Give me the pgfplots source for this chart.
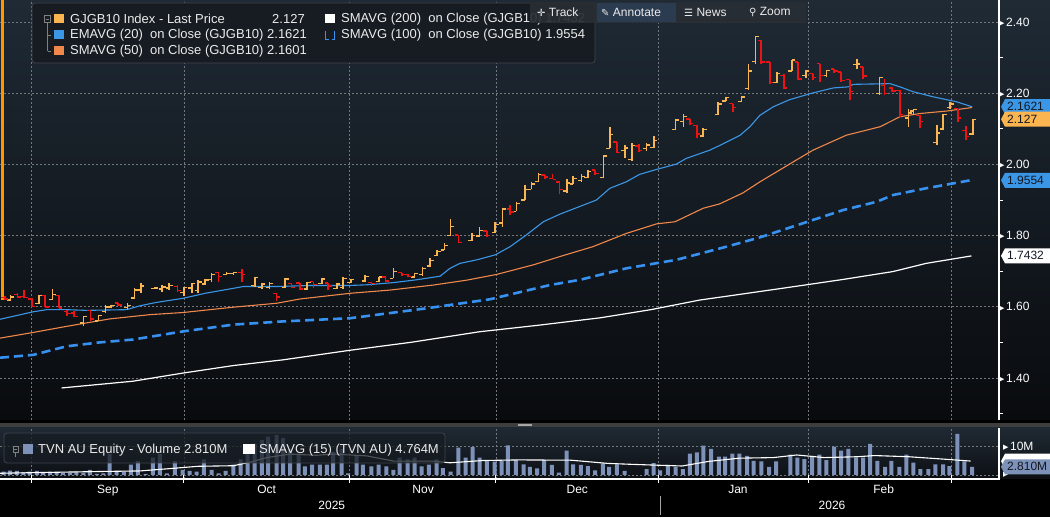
\documentclass[border=0pt]{standalone}
\usepackage{pgfplots}
\pgfplotsset{compat=1.18}
\usepackage{pgfplotstable}
\usepackage{fontspec}
\setmainfont{Liberation Sans}
\newfontfamily\sym{DejaVu Sans}

\definecolor{upc}{RGB}{250,180,80}
\definecolor{spk}{RGB}{255,150,0}
\definecolor{dnc}{RGB}{235,20,20}
\definecolor{ema}{RGB}{60,150,230}
\definecolor{smaf}{RGB}{240,135,75}
\definecolor{smah}{RGB}{55,145,240}
\definecolor{volc}{RGB}{125,145,185}
\definecolor{gridc}{RGB}{115,120,125}
\definecolor{bgtop}{RGB}{31,42,53}
\definecolor{bgbot}{RGB}{9,11,14}
\definecolor{vbgtop}{RGB}{32,42,52}
\definecolor{vbgbot}{RGB}{12,15,19}
\definecolor{sepc}{RGB}{62,62,62}
\definecolor{legbg}{RGB}{22,28,34}
\definecolor{legbd}{RGB}{62,68,74}
\definecolor{txt}{RGB}{235,235,235}
\definecolor{tagtxt}{RGB}{18,24,34}
\definecolor{toolbg}{RGB}{40,46,52}
\definecolor{toolhi}{RGB}{44,60,80}

\newcommand\fs{\fontsize{13}{15}\selectfont}
\newcommand\ft{\fontsize{12}{14}\selectfont}
\newcommand\tri{{\sym\fontsize{7}{7}\selectfont\raisebox{0.8pt}{▶}}\hspace{1.5pt}}

% open / close ticks of an OHLC bar
\pgfdeclareplotmark{otick}{\pgfpathmoveto{\pgfqpoint{-\pgfplotmarksize}{0pt}}\pgfpathlineto{\pgfqpoint{0pt}{0pt}}\pgfusepathqstroke}
\pgfdeclareplotmark{ctick}{\pgfpathmoveto{\pgfqpoint{\pgfplotmarksize}{0pt}}\pgfpathlineto{\pgfqpoint{0pt}{0pt}}\pgfusepathqstroke}

% first bar, running off the top
\pgfplotstableread{
x o h l c
0.35 1.622 2.500 1.620 1.625
}\spike

% GJGB10 daily bars, close >= open
\pgfplotstableread{
x o h l c
1.5 1.619 1.633 1.615 1.628
5.5 1.610 1.633 1.608 1.632
7.4 1.621 1.649 1.619 1.634
11.8 1.555 1.575 1.545 1.573
13.9 1.560 1.578 1.559 1.576
14.9 1.586 1.606 1.582 1.600
15.7 1.599 1.606 1.596 1.604
18.0 1.598 1.610 1.593 1.604
19.0 1.625 1.653 1.622 1.647
19.9 1.647 1.668 1.640 1.658
21.9 1.651 1.655 1.650 1.653
22.9 1.650 1.660 1.643 1.656
23.9 1.653 1.666 1.646 1.660
26.0 1.640 1.656 1.629 1.654
27.1 1.653 1.667 1.638 1.665
28.0 1.645 1.676 1.640 1.670
29.0 1.664 1.677 1.662 1.675
29.9 1.676 1.695 1.671 1.690
32.0 1.690 1.697 1.690 1.694
33.0 1.693 1.699 1.690 1.697
36.0 1.660 1.685 1.657 1.683
37.0 1.655 1.667 1.650 1.664
38.1 1.655 1.669 1.650 1.665
40.3 1.655 1.681 1.653 1.678
43.4 1.650 1.671 1.648 1.668
45.5 1.665 1.681 1.664 1.678
47.6 1.652 1.667 1.650 1.664
48.5 1.655 1.683 1.650 1.680
49.6 1.668 1.677 1.666 1.676
51.6 1.672 1.690 1.671 1.685
53.6 1.671 1.685 1.671 1.684
55.6 1.680 1.708 1.680 1.699
58.6 1.684 1.696 1.683 1.694
59.7 1.690 1.713 1.687 1.708
60.8 1.715 1.736 1.713 1.730
61.8 1.745 1.760 1.743 1.755
62.8 1.760 1.778 1.760 1.772
63.7 1.800 1.846 1.799 1.825
66.7 1.786 1.808 1.786 1.800
67.8 1.799 1.823 1.797 1.815
70.0 1.808 1.839 1.806 1.832
71.0 1.835 1.879 1.825 1.875
73.0 1.868 1.895 1.868 1.890
74.2 1.900 1.942 1.900 1.930
75.1 1.930 1.951 1.930 1.945
76.1 1.952 1.975 1.951 1.972
80.1 1.925 1.958 1.920 1.948
81.0 1.945 1.967 1.944 1.960
82.2 1.955 1.973 1.951 1.966
83.1 1.963 1.984 1.961 1.980
85.3 1.963 2.026 1.961 2.024
86.2 2.045 2.106 2.045 2.084
88.3 2.040 2.054 2.017 2.046
89.3 2.014 2.059 2.010 2.054
91.4 2.045 2.061 2.038 2.055
92.4 2.048 2.079 2.047 2.068
95.5 2.098 2.129 2.098 2.125
96.6 2.120 2.141 2.104 2.135
99.4 2.080 2.101 2.077 2.098
101.5 2.140 2.176 2.138 2.170
102.6 2.178 2.190 2.178 2.188
104.8 2.176 2.192 2.175 2.190
105.8 2.213 2.283 2.210 2.263
106.8 2.290 2.360 2.283 2.360
109.8 2.230 2.260 2.230 2.255
111.9 2.262 2.294 2.262 2.293
113.9 2.250 2.264 2.244 2.262
116.8 2.250 2.266 2.246 2.264
121.1 2.280 2.297 2.269 2.282
124.3 2.200 2.246 2.194 2.244
128.4 2.130 2.157 2.106 2.145
129.1 2.150 2.157 2.140 2.155
132.4 2.062 2.110 2.054 2.088
133.3 2.100 2.143 2.097 2.140
134.3 2.160 2.176 2.157 2.170
137.5 2.085 2.129 2.084 2.127
}\upbars

% close < open
\pgfplotstableread{
x o h l c
0.7 1.626 1.629 1.620 1.622
2.5 1.634 1.638 1.624 1.628
3.4 1.629 1.647 1.624 1.627
4.5 1.622 1.624 1.599 1.601
6.4 1.631 1.633 1.599 1.599
8.3 1.631 1.633 1.596 1.597
9.5 1.587 1.591 1.575 1.582
10.5 1.583 1.587 1.571 1.573
12.8 1.590 1.592 1.559 1.566
16.7 1.611 1.612 1.601 1.605
25.1 1.657 1.660 1.642 1.646
30.9 1.697 1.699 1.671 1.685
34.2 1.697 1.706 1.671 1.690
39.1 1.638 1.638 1.615 1.628
41.2 1.666 1.667 1.653 1.655
42.4 1.667 1.667 1.648 1.650
44.3 1.671 1.671 1.653 1.662
46.4 1.667 1.667 1.648 1.658
52.5 1.668 1.671 1.659 1.665
54.5 1.684 1.685 1.671 1.673
56.8 1.696 1.696 1.687 1.690
57.7 1.690 1.692 1.683 1.686
64.8 1.802 1.802 1.778 1.780
68.8 1.813 1.813 1.797 1.800
72.1 1.875 1.886 1.858 1.866
77.0 1.970 1.970 1.960 1.965
78.1 1.960 1.972 1.958 1.958
79.1 1.951 1.951 1.918 1.930
84.1 1.984 1.984 1.970 1.974
87.2 2.063 2.063 2.033 2.034
90.3 2.052 2.057 2.035 2.040
97.5 2.128 2.129 2.112 2.115
98.5 2.110 2.110 2.073 2.085
103.6 2.171 2.171 2.148 2.160
107.6 2.349 2.349 2.283 2.288
108.8 2.288 2.288 2.227 2.230
110.8 2.250 2.253 2.213 2.215
112.8 2.288 2.288 2.236 2.240
114.9 2.255 2.255 2.236 2.245
115.9 2.283 2.283 2.232 2.250
117.9 2.268 2.269 2.257 2.262
118.9 2.260 2.260 2.232 2.236
120.1 2.238 2.238 2.180 2.205
122.0 2.274 2.274 2.241 2.248
125.0 2.222 2.240 2.194 2.200
126.1 2.215 2.218 2.204 2.206
127.2 2.208 2.208 2.134 2.140
130.0 2.138 2.138 2.101 2.120
135.4 2.157 2.157 2.120 2.130
136.5 2.095 2.107 2.068 2.078
}\dnbars

% TVN AU volume, millions
\pgfplotstableread{
x v
0.5 1.2
1.4 1.5
2.4 1.4
3.3 1.0
4.2 1.2
5.2 1.4
6.1 0.8
7.1 1.2
8.0 1.0
8.9 0.7
9.9 0.7
10.8 1.2
11.8 0.7
12.7 1.8
13.7 0.4
14.6 0.6
15.5 7.2
16.5 1.2
17.5 1.2
18.5 3.6
19.5 4.8
20.6 0.4
21.6 6.0
22.6 7.2
23.6 0.6
24.7 4.8
25.8 1.8
26.8 1.4
27.8 1.2
28.8 5.4
29.9 1.8
30.9 0.6
31.9 1.4
33.0 3.6
34.0 5.4
35.0 10.2
36.0 10.8
37.0 12.0
37.9 13.2
39.1 13.8
40.0 12.7
41.0 9.0
42.2 7.2
43.1 3.0
44.1 3.6
45.2 3.6
46.2 3.6
47.1 8.0
48.3 9.0
49.2 0.6
50.4 6.6
51.3 3.6
52.5 3.0
53.5 3.6
54.6 3.0
55.6 1.8
56.5 6.0
57.6 5.4
58.6 6.0
59.6 3.0
60.6 3.6
61.7 5.4
62.6 2.4
63.7 1.2
64.8 9.4
65.8 6.0
66.8 9.6
67.8 6.0
68.8 4.8
69.9 4.6
70.9 4.8
71.8 10.2
72.9 5.0
74.0 3.7
74.9 2.8
75.9 2.3
76.9 5.1
78.0 3.5
79.0 0.8
80.1 8.4
81.0 3.7
82.1 3.5
83.1 3.1
84.1 1.6
85.2 4.0
86.1 2.8
87.2 3.7
88.3 1.4
91.4 2.0
92.4 4.1
93.3 1.6
94.4 3.5
95.5 2.8
96.5 2.0
97.5 7.4
98.5 7.8
99.4 10.1
100.5 9.0
101.6 6.3
102.5 6.3
103.5 7.4
104.5 7.4
105.6 6.6
106.5 4.9
107.6 4.7
108.7 2.8
109.7 4.7
111.7 7.0
112.7 6.0
113.7 5.5
114.8 6.6
115.8 7.0
116.8 5.1
117.9 9.8
118.9 8.4
119.9 9.0
121.0 6.0
122.0 6.0
123.0 10.7
124.0 4.9
125.1 2.8
126.0 4.9
127.1 2.8
128.1 7.0
129.1 4.3
130.1 2.0
131.2 2.0
132.2 3.7
133.3 3.7
134.2 3.1
135.3 14.2
136.3 4.7
137.4 2.8
}\vol

\newcommand\vtag[4]{%
  \fill[#2] (#1) ++(2pt,0pt) -- ++(4pt,7.5pt) -- ++(46pt,0pt) -- ++(0pt,-15pt) -- ++(-46pt,0pt) -- cycle;
  \node[anchor=west, xshift=8pt, inner sep=0pt, text=#3, font=\ft] at (#1) {#4};}

\begin{document}
\begin{tikzpicture}
\begin{scope}[x=1pt,y=1pt]
\fill[black] (0,0) rectangle (1050,517);
\shade[top color=bgtop, bottom color=bgbot] (0,97) rectangle (1050,517);
\shade[top color=vbgtop, bottom color=vbgbot] (0,38) rectangle (1050,90);
\fill[sepc] (0,90) rectangle (1050,94);
\draw[gray!70, line width=0.8pt] (518,92.9) -- (532,92.9) (518,91.2) -- (532,91.2);
\end{scope}

% ---- price panel
\begin{axis}[
  at={(0pt,97pt)}, anchor=south west, scale only axis,
  width=999pt, height=420pt,
  xmin=0, xmax=141.2, ymin=1.282, ymax=2.462,
  axis line style={draw=none},
  xtick={4.5,26.0,49.45,70.1,93.1,114.3,134.5}, xticklabels={},
  xtick style={draw=none},
  ytick={1.4,1.6,1.8,2.0,2.2,2.4},
  yticklabels={{\tri1.40},{\tri1.60},{\tri1.80},{\tri2.00},{\tri2.20},{\tri2.40}},
  minor ytick={1.3,1.5,1.7,1.9,2.1,2.3},
  ytick pos=right, yticklabel pos=right,
  major tick length=0pt, minor tick length=4pt, tick align=outside,
  ytick style={white, line width=1pt},
  yticklabel style={anchor=west, inner sep=0pt, text=white, font=\ft},
  xmajorgrids, ymajorgrids,
  major grid style={gridc, dash pattern=on 2pt off 2pt, line width=0.8pt},
  extra description/.code={\draw[white, line width=1.2pt] (rel axis cs:1,0) -- (rel axis cs:1,1);},
]
% SMAVG 200
\addplot[white, line width=1.2pt] coordinates {
(8.7,1.372) (18.8,1.391) (25.9,1.414) (33,1.435) (40,1.451) (49.5,1.478) (58,1.500)
(67.8,1.530) (76,1.548) (84.8,1.569) (92,1.592) (98.9,1.619) (106,1.639) (113,1.659)
(119.2,1.677) (126.2,1.699) (130.9,1.722) (137.3,1.743)};
% SMAVG 100
\addplot[smah, line width=2.6pt, dash pattern=on 9pt off 5pt] coordinates {
(0,1.457) (4.7,1.465) (9.4,1.489) (14.1,1.500) (18.8,1.508) (25.9,1.531) (33,1.550)
(40,1.559) (49.5,1.568) (60,1.595) (69.2,1.621) (77.7,1.661) (82,1.676) (88.5,1.708)
(95.6,1.732) (102.7,1.769) (107.4,1.795) (114.9,1.844) (119.2,1.872) (123.9,1.895)
(126.2,1.914) (130.9,1.933) (137.3,1.956)};
% SMAVG 50
\addplot[smaf, line width=1.1pt] coordinates {
(0,1.512) (4.7,1.528) (9.4,1.545) (15.5,1.566) (21.2,1.578) (25.9,1.584) (33,1.599)
(39.1,1.610) (42.4,1.622) (49.5,1.638) (55.1,1.647) (61.2,1.661) (66,1.675) (70.2,1.691)
(75.4,1.718) (79.1,1.741) (83.8,1.769) (88.5,1.806) (92.8,1.833) (95.4,1.839) (99.4,1.877)
(101.7,1.889) (105,1.920) (107.4,1.951) (112.1,2.007) (114.9,2.040) (119.6,2.082)
(124.4,2.106) (127.2,2.134) (130,2.143) (133.8,2.150) (137.4,2.160)};
% EMAVG 20
\addplot[ema, line width=1.1pt] coordinates {
(0,1.565) (4.7,1.586) (6.6,1.592) (9.4,1.592) (12.2,1.590) (17.9,1.592) (19.8,1.603)
(22,1.612) (25.9,1.624) (29,1.638) (33,1.652) (34.4,1.657) (39.1,1.657) (44,1.660)
(49.5,1.660) (52,1.662) (55.6,1.668) (58.9,1.676) (62.2,1.686) (63.6,1.708) (65,1.722)
(67.4,1.732) (70,1.746) (72.1,1.769) (74.4,1.802) (76.8,1.839) (79.1,1.860) (84.3,1.900)
(86.2,1.933) (88.5,1.951) (90.4,1.972) (92.8,1.986) (95.6,2.001) (97,2.017)
(100.3,2.040) (101.8,2.054) (104.6,2.082) (106,2.106) (107.4,2.138) (109.3,2.162)
(111.6,2.182) (114.9,2.201) (117.8,2.215) (119.9,2.218) (120.6,2.225) (125.8,2.227)
(127.2,2.218) (129.1,2.204) (131.9,2.190) (135.2,2.176) (137.4,2.162)};
% OHLC bars
\addplot[draw=none, forget plot, error bars/.cd, y dir=minus, y explicit, error mark=none,
  error bar style={draw=spk, line width=2.6pt}]
  table[x=x, y=h, y error minus expr=\thisrow{h}-\thisrow{l}] {\spike};
\addplot[draw=none, forget plot, error bars/.cd, y dir=minus, y explicit, error mark=none,
  error bar style={draw=upc, line width=1.6pt}]
  table[x=x, y=h, y error minus expr=\thisrow{h}-\thisrow{l}] {\upbars};
\addplot[only marks, mark=otick, mark size=3.5pt, upc, mark options={line width=1.4pt}] table[x=x, y=o] {\upbars};
\addplot[only marks, mark=ctick, mark size=3.5pt, upc, mark options={line width=1.4pt}] table[x=x, y=c] {\upbars};
\addplot[draw=none, forget plot, error bars/.cd, y dir=minus, y explicit, error mark=none,
  error bar style={draw=dnc, line width=1.6pt}]
  table[x=x, y=h, y error minus expr=\thisrow{h}-\thisrow{l}] {\dnbars};
\addplot[only marks, mark=otick, mark size=3.5pt, dnc, mark options={line width=1.4pt}] table[x=x, y=o] {\dnbars};
\addplot[only marks, mark=ctick, mark size=3.5pt, dnc, mark options={line width=1.4pt}] table[x=x, y=c] {\dnbars};
\coordinate (tg1) at (axis cs:141.2,2.1621);
\coordinate (tg2) at (axis cs:141.2,2.127);
\coordinate (tg3) at (axis cs:141.2,1.9554);
\coordinate (tg4) at (axis cs:141.2,1.7432);
\end{axis}

% ---- volume panel
\begin{axis}[
  at={(0pt,38pt)}, anchor=south west, scale only axis,
  width=999pt, height=51pt,
  xmin=0, xmax=141.2, ymin=-1.38, ymax=16.2, clip=false,
  axis line style={draw=none},
  xtick={4.5,26.0,49.45,70.1,93.1,114.3,134.5}, xticklabels={},
  extra x ticks={15.25,37.7,59.8,81.6,104.3,124.9},
  extra x tick labels={Sep,Oct,Nov,Dec,Jan,Feb},
  extra x tick style={major tick length=0pt, grid=none},
  xtick pos=bottom, xticklabel pos=bottom,
  ytick={0,10}, yticklabels={{\tri},{\tri10M}},
  ytick pos=right, yticklabel pos=right,
  tick align=center, major tick length=8pt,
  xtick style={white, line width=1pt}, ytick style={draw=none},
  xticklabel style={text=white, font=\ft, yshift=-2.5pt},
  yticklabel style={anchor=west, inner sep=0pt, text=white, font=\ft},
  xmajorgrids, ymajorgrids,
  major grid style={gridc, dash pattern=on 2pt off 2pt, line width=0.8pt},
  extra description/.code={\draw[white, line width=1.2pt] (rel axis cs:0,0) -- (rel axis cs:1,0) -- (rel axis cs:1,1);},
]
\addplot[ybar, bar width=4pt, bar shift=0pt, fill=volc, draw=none] table[x=x, y=v] {\vol};
\addplot[white, line width=1.1pt] coordinates {
(0,0.6) (14,1.2) (19.8,1.4) (24,2.2) (28,3.0) (33,3.2) (35.5,4.5) (37.7,6.0) (41,7.2)
(44.7,6.8) (47.1,7.2) (51.8,6.6) (55.6,4.8) (61.2,4.8) (63.6,4.2) (68.3,5.0) (73.5,5.2)
(80.7,5.1) (85.9,4.0) (89,3.7) (92.6,3.4) (96.4,3.1) (100.2,4.7) (104.5,5.8) (109.3,6.0)
(112.6,6.9) (116.5,6.0) (121.2,6.3) (123.6,6.7) (128.4,6.3) (133.2,5.5) (137.2,4.8)};
\node[text=white, font=\ft] at (axis cs:46.9,-1.38) [yshift=-26pt] {2025};
\node[text=white, font=\ft] at (axis cs:117.6,-1.38) [yshift=-26pt] {2026};
\draw[gray!70, line width=0.8pt] (axis cs:93.4,-1.38) ++(0pt,-17pt) -- ++(0pt,-19pt);
\coordinate (tv1) at (axis cs:141.2,4.764);
\coordinate (tv2) at (axis cs:141.2,2.81);
\end{axis}

% ---- value tags
\vtag{tg1}{ema}{tagtxt}{2.1621}
\vtag{tg2}{upc}{tagtxt}{2.127}
\vtag{tg3}{ema}{tagtxt}{1.9554}
\vtag{tg4}{white}{tagtxt}{1.7432}
\vtag{tv1}{white}{tagtxt}{}
\vtag{tv2}{volc}{tagtxt}{2.810M}

\begin{scope}[x=1pt,y=1pt]
% ---- price legend
\filldraw[fill=legbg, draw=legbd, rounded corners=3pt, line width=0.8pt] (32,514) rectangle (595,454);
\draw[gray, line width=0.6pt] (44.5,494.5) rectangle (50.5,501.5) (46,498) -- (49,498);
\draw[gray, line width=0.6pt] (47.5,494.5) -- (47.5,466) (47.5,482) -- (51,482) (47.5,466) -- (51,466);
\fill[upc] (54,493.5) rectangle (64,502.5);
\fill[ema] (54,477.5) rectangle (64,486.5);
\fill[smaf] (54,461.5) rectangle (64,470.5);
\fill[white] (325,493.5) rectangle (335,502.5);
\draw[smah, line width=1pt] (325.5,486) -- (325.5,477.5) -- (328.5,477.5) (331.5,477.5) -- (334.5,477.5) -- (334.5,486);
\begin{scope}[every node/.style={anchor=west, inner sep=0pt, text=txt, font=\fs}]
\node at (70,498) {GJGB10 Index - Last Price};
\node at (272,498) {2.127};
\node at (341,498) {SMAVG (200)\ \ on Close (GJGB10) 1.7432};
\node at (70,482) {EMAVG (20)\ \ on Close (GJGB10) 2.1621};
\node at (341,482) {SMAVG (100)\ \ on Close (GJGB10) 1.9554};
\node at (70,466) {SMAVG (50)\ \ on Close (GJGB10) 2.1601};
\end{scope}

% ---- toolbar
\fill[toolbg, fill opacity=0.92] (530,494) rectangle (806,515);
\fill[toolhi] (597,495) rectangle (676,514);
\begin{scope}[every node/.style={anchor=west, inner sep=0pt, text=txt, font=\ft}]
\node at (537,504.5) {{\sym\fontsize{10}{10}\selectfont ✛} Track};
\node at (601,504.5) {{\sym\fontsize{10}{10}\selectfont ✎} Annotate};
\node at (684,504.5) {{\sym\fontsize{10}{10}\selectfont ☰} News};
\node at (749,504.5) {{\sym\fontsize{10}{10}\selectfont ⚲} Zoom};
\end{scope}

% ---- volume legend
\filldraw[fill=legbg, fill opacity=0.75, draw=legbd, rounded corners=3pt, line width=0.8pt] (4,84) rectangle (445,54);
\draw[gray, line width=0.6pt] (13,65) rectangle (18,71) (14,68) -- (17,68) (15.5,65) -- (15.5,60);
\fill[volc] (23,62.5) rectangle (33,72.5);
\fill[white] (243,62.5) rectangle (255,72.5);
\begin{scope}[every node/.style={anchor=west, inner sep=0pt, text=txt, font=\fs}]
\node at (38,67) {TVN AU Equity - Volume 2.810M};
\node at (259,67) {SMAVG (15) (TVN AU) 4.764M};
\end{scope}

\pgfresetboundingbox
\path[use as bounding box] (0,0) rectangle (1050,517);
\end{scope}
\end{tikzpicture}
\end{document}
